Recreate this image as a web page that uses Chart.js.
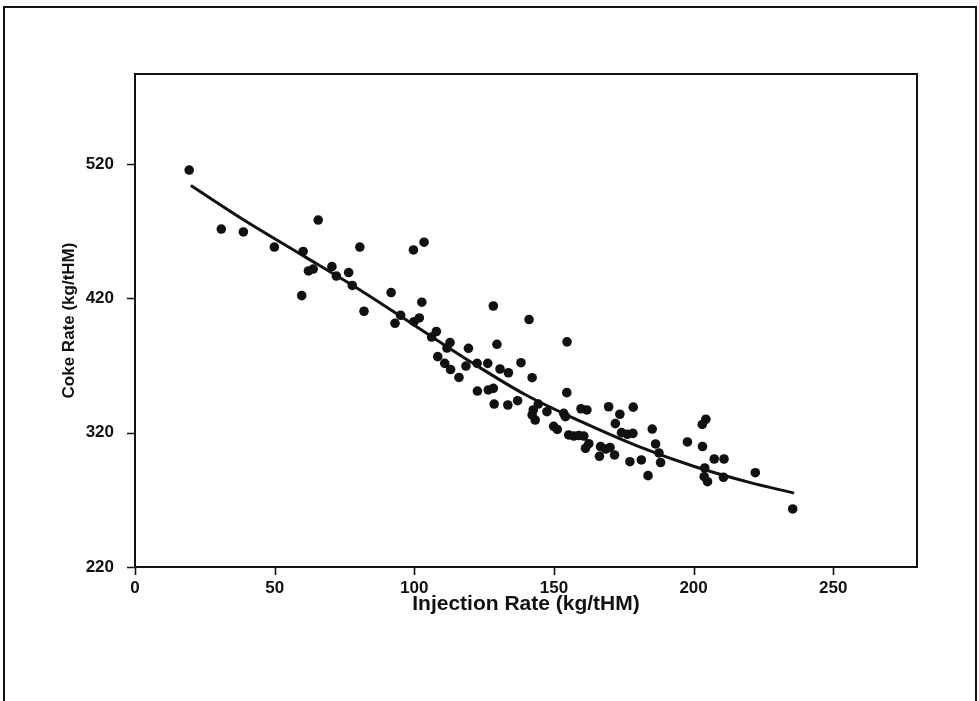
<!DOCTYPE html>
<html>
<head>
<meta charset="utf-8">
<title>Coke Rate vs Injection Rate</title>
<script src="https://cdn.jsdelivr.net/npm/chart.js@4.4.1/dist/chart.umd.min.js"></script>
<style>
  html, body { margin: 0; padding: 0; background: #fff; }
  #wrap { position: relative; width: 979px; height: 701px; }
</style>
</head>
<body>
<div id="wrap"><canvas id="chart" width="979" height="701"></canvas></div>
<script>
/* data */
const injectionRate = [
  19.4, 30.9, 38.8, 49.9, 65.6, 60.2, 62.1, 63.8, 59.7, 70.5,
  72.1, 76.5, 77.8, 80.5, 82.0, 91.7, 93.1, 95.1, 99.7, 103.5,
  102.7, 101.8, 99.9, 107.9, 106.2, 112.8, 111.7, 119.4, 128.3, 129.6,
  141.1, 154.7, 108.4, 110.9, 113.0, 116.0, 118.5, 122.5, 126.3, 130.7,
  133.7, 138.2, 142.2, 154.6, 122.6, 126.5, 128.3, 128.6, 133.5, 137.0,
  144.4, 142.6, 142.2, 143.3, 147.5, 153.5, 154.1, 159.7, 161.8, 169.6,
  178.4, 173.6, 172.0, 174.2, 176.3, 178.3, 185.2, 186.4, 187.6, 188.2,
  183.7, 149.9, 151.2, 155.3, 157.1, 158.9, 160.7, 162.5, 161.3, 166.7,
  168.5, 170.1, 166.3, 171.7, 177.2, 181.3, 197.8, 203.2, 204.4, 203.1,
  207.4, 210.9, 203.8, 205.0, 210.7, 222.1, 235.5, 204.0
];
const cokeRate = [
  515.5, 471.6, 469.4, 458.2, 478.3, 454.9, 440.4, 441.8, 422.0, 443.6,
  436.6, 439.2, 429.6, 458.2, 410.4, 424.3, 401.4, 407.4, 456.0, 461.8,
  417.1, 405.4, 402.6, 395.3, 391.2, 387.1, 383.0, 382.8, 414.3, 385.8,
  404.2, 387.6, 376.6, 371.6, 367.0, 361.1, 369.6, 371.6, 371.6, 367.4,
  364.6, 372.1, 360.9, 349.8, 351.0, 351.8, 353.0, 341.3, 340.6, 343.8,
  341.3, 336.9, 333.2, 329.4, 335.6, 334.4, 331.9, 337.8, 336.9, 339.3,
  339.0, 333.7, 326.7, 320.0, 318.8, 319.5, 322.7, 311.6, 304.9, 297.8,
  288.0, 324.7, 322.4, 318.3, 317.5, 317.9, 317.5, 311.8, 308.4, 309.6,
  307.8, 309.0, 302.4, 303.4, 298.4, 299.7, 313.1, 309.7, 330.0, 326.1,
  300.4, 300.4, 287.2, 283.5, 286.8, 290.2, 263.2, 293.7
];

/* fitted curve */
const fitInjection = [20, 40, 60, 80, 100, 120, 140, 160, 180, 200, 220, 236];
const fitCoke = [504, 477, 452, 427, 400, 373, 348, 328, 310, 295, 283, 275];

const xTicks = [0, 50, 100, 150, 200, 250];
const yTicks = [220, 320, 420, 520];

const FONT = "'Liberation Sans', Arial, sans-serif";
const INK = "#111";
const TICK_LEN = 8;

/* outer page frame, box round the plot, outward tick marks */
const frames = {
  id: "frames",
  beforeDraw(chart) {
    const c = chart.ctx;
    c.save();
    c.fillStyle = "#fff";
    c.fillRect(0, 0, chart.width, chart.height);
    c.strokeStyle = INK;
    c.lineWidth = 2;
    c.beginPath();
    c.moveTo(4, 701);
    c.lineTo(4, 7);
    c.lineTo(976, 7);
    c.lineTo(976, 701);
    c.stroke();
    c.restore();
  },
  afterDraw(chart) {
    const a = chart.chartArea;
    const c = chart.ctx;
    const sx = chart.scales.x, sy = chart.scales.y;
    c.save();
    c.strokeStyle = INK;
    c.lineWidth = 2;
    c.strokeRect(a.left, a.top, a.right - a.left, a.bottom - a.top);
    c.lineWidth = 1.6;
    c.beginPath();
    xTicks.forEach(v => {
      const px = Math.round(sx.getPixelForValue(v)) + 0.5;
      c.moveTo(px, a.bottom);
      c.lineTo(px, a.bottom + TICK_LEN);
    });
    yTicks.forEach(v => {
      const py = Math.round(sy.getPixelForValue(v)) + 0.5;
      c.moveTo(a.left, py);
      c.lineTo(a.left - TICK_LEN, py);
    });
    c.stroke();
    c.restore();
  }
};

new Chart(document.getElementById("chart"), {
  type: "scatter",
  data: {
    datasets: [
      {
        label: "data",
        data: injectionRate.map((x, i) => ({ x, y: cokeRate[i] })),
        backgroundColor: INK,
        borderWidth: 0,
        pointRadius: 4.8,
        pointHoverRadius: 4.8
      },
      {
        label: "fit",
        data: fitInjection.map((x, i) => ({ x, y: fitCoke[i] })),
        showLine: true,
        borderColor: INK,
        borderWidth: 3,
        pointRadius: 0,
        cubicInterpolationMode: "monotone",
        fill: false
      }
    ]
  },
  options: {
    responsive: false,
    devicePixelRatio: 1,
    animation: false,
    layout: { padding: { top: 74, right: 62, left: 0, bottom: 0 } },
    plugins: {
      legend: { display: false },
      tooltip: { enabled: false }
    },
    scales: {
      x: {
        type: "linear",
        min: 0,
        max: 280,
        afterBuildTicks: s => { s.ticks = xTicks.map(v => ({ value: v })); },
        afterFit: s => { s.height = 134; },
        grid: { display: false },
        border: { display: true, color: INK, width: 2 },
        ticks: { color: INK, padding: 3, maxRotation: 0, font: { family: FONT, size: 17, weight: "bold" } },
        title: {
          display: true,
          text: "Injection Rate (kg/tHM)",
          color: INK,
          font: { family: FONT, size: 21, weight: "bold" },
          padding: { top: 0, bottom: 84 }
        }
      },
      y: {
        type: "linear",
        min: 220,
        max: 587,
        afterBuildTicks: s => { s.ticks = yTicks.map(v => ({ value: v })); },
        afterFit: s => { s.width = 135; },
        grid: { display: false },
        border: { display: true, color: INK, width: 2 },
        ticks: { color: INK, padding: 13, font: { family: FONT, size: 17, weight: "bold" } },
        title: {
          display: true,
          text: "Coke Rate (kg/tHM)",
          color: INK,
          font: { family: FONT, size: 17, weight: "bold" },
          padding: { top: 59, bottom: 0 }
        }
      }
    }
  },
  plugins: [frames]
});
</script>
</body>
</html>
